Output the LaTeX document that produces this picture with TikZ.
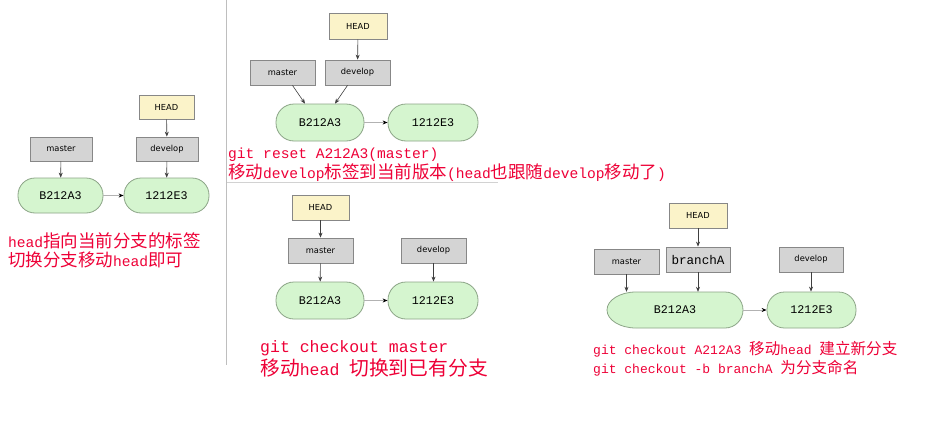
\documentclass[tikz,border=0pt]{standalone}
\usepackage{fontspec}
\usetikzlibrary{arrows.meta}
\newfontfamily\monofont{Liberation Mono}
\newfontfamily\cjkfont{Noto Sans CJK SC}
\newfontfamily\lblfont{DejaVu Sans}
\def\zhsize{17.5}
\newcommand\zh[1]{{\cjkfont\fontsize{\zhsize pt}{\zhsize pt}\selectfont #1}}
\definecolor{lblfill}{RGB}{212,212,212}
\definecolor{lblborder}{RGB}{135,135,135}
\definecolor{headfill}{RGB}{251,243,201}
\definecolor{commitfill}{RGB}{213,245,207}
\definecolor{commitborder}{RGB}{140,165,135}
\definecolor{redtext}{RGB}{238,0,55}
\definecolor{sepline}{RGB}{190,190,190}
\tikzset{
  lbl/.style={draw=lblborder, fill=lblfill, line width=0.8pt, minimum width=62pt, minimum height=24pt, inner sep=0pt,
    font=\lblfont\fontsize{8.3}{8.3}\selectfont},
  headbox/.style={lbl, fill=headfill},
  commit/.style={draw=commitborder, fill=commitfill, line width=0.8pt, rounded corners=17pt, minimum width=85pt, minimum height=35pt, inner sep=0pt,
    font=\monofont\fontsize{11.7}{11.7}\selectfont},
  ptr/.style={-{Stealth[length=5pt,width=4pt]}, draw=black!75, line width=0.6pt},
  lnk/.style={-{Stealth[length=5pt,width=4pt,color=black]}, draw=gray!60, line width=0.8pt},
  redtxt/.style={anchor=base west, inner sep=0pt, text=redtext},
}
\begin{document}
\begin{tikzpicture}[x=1pt,y=-1pt]
\useasboundingbox (0,0) rectangle (938,434);
\fill[white] (0,0) rectangle (938,434);
% separators
\draw[sepline, line width=1.2pt] (226.5,0) -- (226.5,365);
\draw[sepline!70, line width=0.8pt] (227,182) -- (498,182);

% ---------- panel 1
\node[headbox, minimum width=55pt] (h1) at (166.5,107) {HEAD};
\node[lbl] (d1) at (167,149) {develop};
\node[lbl] (m1) at (61,149) {master};
\node[commit] (b1) at (60.5,195.5) {B212A3};
\node[commit] (c1) at (166.5,195.5) {1212E3};
\draw[ptr] (h1) -- (d1);
\draw[ptr] (d1) -- (c1);
\draw[ptr] (m1) -- (b1);
\draw[lnk] (b1) -- (c1);
\node[redtxt] (t1a) at (8,247) {\def\zhsize{17.5}\monofont\fontsize{14.6}{14.6}\selectfont head\zh{指向当前分支的标签}};
\node[redtxt] (t1b) at (8,266) {\def\zhsize{17.5}\monofont\fontsize{14.6}{14.6}\selectfont \zh{切换分支移动}head\zh{即可}};

% ---------- panel 2
\node[headbox, minimum width=58pt, minimum height=26pt] (h2) at (358,26) {HEAD};
\node[lbl, minimum width=65pt, minimum height=25pt] (m2) at (282.5,72.5) {master};
\node[lbl, minimum width=65pt, minimum height=25pt] (d2) at (357.5,72.5) {develop};
\node[commit, minimum width=88pt, minimum height=37pt, rounded corners=18pt] (b2) at (320,122.5) {B212A3};
\node[commit, minimum width=90pt, minimum height=37pt, rounded corners=18pt] (c2) at (433,122.5) {1212E3};
\draw[ptr] (h2) -- (d2);
\draw[ptr] ([xshift=10pt]m2.south) -- ([xshift=-15pt]b2.north);
\draw[ptr] ([xshift=-10pt]d2.south) -- ([xshift=15pt]b2.north);
\draw[lnk] (b2) -- (c2);
\node[redtxt] (t2a) at (228,158) {\def\zhsize{17.5}\monofont\fontsize{14.6}{14.6}\selectfont git reset A212A3(master)};
\node[redtxt] (t2b) at (228,178) {\def\zhsize{17.5}\monofont\fontsize{14.6}{14.6}\selectfont \zh{移动}develop\zh{标签到当前版本}(head\zh{也跟随}develop\zh{移动了})};

% ---------- panel 3
\node[headbox, minimum width=57pt, minimum height=25pt] (h3) at (320.5,207.5) {HEAD};
\node[lbl, minimum width=65pt, minimum height=25pt] (m3) at (320.5,250.5) {master};
\node[lbl, minimum width=65pt, minimum height=25pt] (d3) at (433.5,250.5) {develop};
\node[commit, minimum width=88pt, minimum height=37pt, rounded corners=18pt] (b3) at (320,300.5) {B212A3};
\node[commit, minimum width=90pt, minimum height=37pt, rounded corners=18pt] (c3) at (433,300.5) {1212E3};
\draw[ptr] (h3) -- (m3);
\draw[ptr] (m3) -- (b3);
\draw[ptr] (d3) -- (d3 |- c3.north);
\draw[lnk] (b3) -- (c3);
\node[redtxt] (t3a) at (260,352) {\def\zhsize{19.8}\monofont\fontsize{16.5}{16.5}\selectfont git checkout master};
\node[redtxt] (t3b) at (260,375) {\def\zhsize{19.8}\monofont\fontsize{16.5}{16.5}\selectfont \zh{移动}head \zh{切换到已有分支}};

% ---------- panel 4
\fill[commitfill, draw=commitborder, line width=0.8pt]
  (725,292) -- (636,292) arc[start angle=270, end angle=90, x radius=29, y radius=18] -- (725,328)
  arc[start angle=90, end angle=-90, radius=18] -- cycle;
\node[inner sep=0pt, minimum width=136pt, minimum height=36pt, font=\monofont\fontsize{11.7}{11.7}\selectfont] (b4) at (675,310) {B212A3};
\node[headbox, minimum width=58pt, minimum height=25pt] (h4) at (698,215.5) {HEAD};
\node[lbl, minimum width=65pt, minimum height=25pt] (m4) at (626.5,261.5) {master};
\node[lbl, minimum width=64pt, minimum height=25pt, font=\monofont\fontsize{12.6}{12.6}\selectfont] (a4) at (698,259.5) {branchA};
\node[lbl, minimum width=64pt, minimum height=25pt] (d4) at (811,259.5) {develop};
\node[commit, minimum width=89pt, minimum height=36pt, rounded corners=17.5pt] (c4) at (811.5,310) {1212E3};
\draw[ptr] (h4) -- (a4);
\draw[ptr] (m4) -- (m4 |- b4.north);
\draw[ptr] (a4) -- (a4 |- b4.north);
\draw[ptr] (d4) -- (d4 |- c4.north);
\draw[lnk] (b4) -- (c4);
\node[redtxt] (t4a) at (593,354) {\def\zhsize{15.6}\monofont\fontsize{13}{13}\selectfont git checkout A212A3 \zh{移动}head \zh{建立新分支}};
\node[redtxt] (t4b) at (593,373) {\def\zhsize{15.6}\monofont\fontsize{13}{13}\selectfont git checkout -b branchA \zh{为分支命名}};
\end{tikzpicture}
\end{document}
